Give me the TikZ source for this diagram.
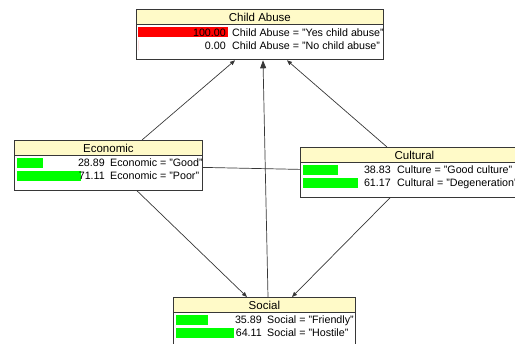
\documentclass[tikz,border=0pt]{standalone}
\usepackage{fontspec}
\setmainfont{Liberation Sans}
\usetikzlibrary{positioning,arrows.meta}
\definecolor{headyellow}{RGB}{255,250,200}
\definecolor{barred}{RGB}{255,0,0}
\definecolor{bargreen}{RGB}{0,255,0}
\definecolor{edgegray}{RGB}{55,55,55}

\tikzset{
  netbox/.style={draw=edgegray, fill=white, line width=0.8pt, inner sep=0pt,
    anchor=north west, minimum height=50pt},
  nethead/.style={draw=edgegray, fill=headyellow, line width=0.8pt, inner sep=0pt,
    anchor=north west, minimum height=15pt, font=\fontsize{11.5}{12}\selectfont},
  rowtext/.style={inner sep=0pt, font=\fontsize{10.7}{12}\selectfont},
  link/.style={draw=edgegray, line width=0.7pt},
  arr/.style={link, -{Triangle[length=5pt,width=4pt]}},
  bigarr/.style={link, -{Triangle[length=8pt,width=6pt]}}
}

\begin{document}
\begin{tikzpicture}[x=1pt,y=-1pt]
  \useasboundingbox (0,0) rectangle (515,344);
  \clip (0,0) rectangle (515,344);

  % ---- Child Abuse ----
  \node[netbox, minimum width=247pt] (abuse) at (136,9.5) {};
  \node[nethead, minimum width=247pt] (abuse-head) at (abuse.north west) {Child Abuse};
  \foreach \pct/\txt [count=\i] in {100.00/{Child Abuse = "Yes child abuse"}, 0.00/{Child Abuse = "No child abuse"}} {
    \fill[barred] ([shift={(2,5+13*\i)}]abuse.north west) rectangle ++(0.9*\pct,10);
    \node[rowtext, anchor=base east] (abuse-num-\i) at ([shift={(90,14+13*\i)}]abuse.north west) {\pct};
    \node[rowtext, anchor=base west] (abuse-lab-\i) at ([shift={(96,14+13*\i)}]abuse.north west) {\txt};
  }

  % ---- Economic ----
  \node[netbox, minimum width=188pt] (econ) at (14,140) {};
  \node[nethead, minimum width=188pt] (econ-head) at (econ.north west) {Economic};
  \foreach \pct/\txt [count=\i] in {28.89/{Economic = "Good"}, 71.11/{Economic = "Poor"}} {
    \fill[bargreen] ([shift={(3,5+13*\i)}]econ.north west) rectangle ++(0.9*\pct,10);
    \node[rowtext, anchor=base east] (econ-num-\i) at ([shift={(91,14+13*\i)}]econ.north west) {\pct};
    \node[rowtext, anchor=base west] (econ-lab-\i) at ([shift={(96,14+13*\i)}]econ.north west) {\txt};
  }

  % ---- Cultural ----
  \node[netbox, minimum width=228pt] (cult) at (300,147) {};
  \node[nethead, minimum width=228pt] (cult-head) at (cult.north west) {Cultural};
  \foreach \pct/\txt [count=\i] in {38.83/{Culture = "Good culture"}, 61.17/{Cultural = "Degeneration"}} {
    \fill[bargreen] ([shift={(3,5+13*\i)}]cult.north west) rectangle ++(0.9*\pct,10);
    \node[rowtext, anchor=base east] (cult-num-\i) at ([shift={(91,14+13*\i)}]cult.north west) {\pct};
    \node[rowtext, anchor=base west] (cult-lab-\i) at ([shift={(97,14+13*\i)}]cult.north west) {\txt};
  }

  % ---- Social ----
  \node[netbox, minimum width=182pt] (social) at (173,297) {};
  \node[nethead, minimum width=182pt] (social-head) at (social.north west) {Social};
  \foreach \pct/\txt [count=\i] in {35.89/{Social = "Friendly"}, 64.11/{Social = "Hostile"}} {
    \fill[bargreen] ([shift={(3,5+13*\i)}]social.north west) rectangle ++(0.9*\pct,10);
    \node[rowtext, anchor=base east] (social-num-\i) at ([shift={(89,14+13*\i)}]social.north west) {\pct};
    \node[rowtext, anchor=base west] (social-lab-\i) at ([shift={(94,14+13*\i)}]social.north west) {\txt};
  }

  % ---- Links ----
  \draw[arr] ([xshift=128pt]econ.north west) -- ([xshift=99pt]abuse.south west);
  \draw[arr] ([xshift=87pt]cult.north west) -- ([xshift=151pt]abuse.south west);
  \draw[bigarr] ([xshift=95pt]social.north west) -- ([xshift=127pt]abuse.south west);
  \draw[arr] ([xshift=123pt]econ.south west) -- ([xshift=74pt]social.north west);
  \draw[arr] ([xshift=90pt]cult.south west) -- ([xshift=119pt]social.north west);
  \draw[link] ([yshift=-2pt]econ.east) -- ([yshift=3pt]cult.west);
\end{tikzpicture}
\end{document}
